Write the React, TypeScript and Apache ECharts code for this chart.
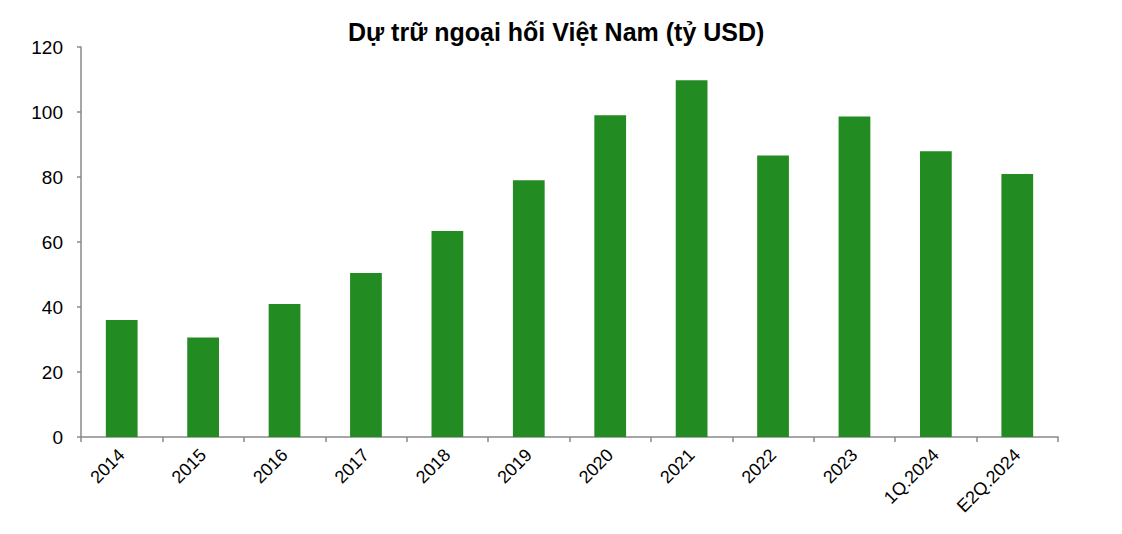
import React, { useEffect, useRef } from "react";
import * as echarts from "echarts";

const categories = ["2014", "2015", "2016", "2017", "2018", "2019", "2020", "2021", "2022", "2023", "1Q.2024", "E2Q.2024"];
const reserves = [36.0, 30.6, 40.9, 50.5, 63.4, 79.0, 99.0, 109.8, 86.6, 98.6, 87.9, 80.9];
const titleText = "Dự trữ ngoại hối Việt Nam (tỷ USD)";

export default function App() {
  const ref = useRef<HTMLDivElement>(null);
  useEffect(() => {
    if (!ref.current) return;
    const chart = echarts.init(ref.current, undefined, { renderer: "svg" });
    const font = "'Liberation Sans', Arial, sans-serif";
    chart.setOption({
      animation: false,
      backgroundColor: "#ffffff",
      title: {
        text: titleText,
        left: 343,
        top: 14,
        textStyle: { fontFamily: font, fontWeight: "bold", fontSize: 25, color: "#000" },
      },
      grid: { left: 81, right: 64, top: 47, bottom: 97, containLabel: false },
      xAxis: {
        type: "category",
        data: categories,
        boundaryGap: true,
        axisLine: { lineStyle: { color: "#898989", width: 1.5 } },
        axisTick: { show: true, length: 5, lineStyle: { color: "#898989", width: 1.5 } },
        axisLabel: { rotate: 45, margin: 15, fontFamily: font, fontSize: 18, color: "#000" },
      },
      yAxis: {
        type: "value",
        min: 0,
        max: 120,
        interval: 20,
        splitLine: { show: false },
        axisLine: { show: true, lineStyle: { color: "#898989", width: 1.5 } },
        axisTick: { show: true, length: 4, lineStyle: { color: "#898989", width: 1.5 } },
        axisLabel: { margin: 18, fontFamily: font, fontSize: 19, color: "#000" },
      },
      series: [
        {
          type: "bar",
          data: reserves,
          barWidth: "39%",
          itemStyle: { color: "#228B22" },
        },
      ],
    });
    return () => chart.dispose();
  }, []);
  return <div ref={ref} style={{ position: "fixed", left: 0, top: 0, width: 1122, height: 534 }} />;
}
